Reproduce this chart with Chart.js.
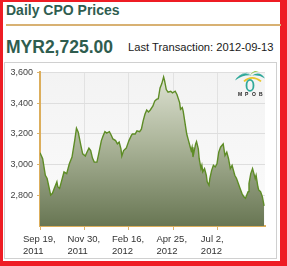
<!DOCTYPE html>
<html><head><meta charset="utf-8">
<script src="https://cdn.jsdelivr.net/npm/chart.js@4"></script>
<style>
html,body{margin:0;padding:0;}
#frame{position:absolute;left:0;top:0;width:287px;height:266px;background:#ee1c24;overflow:hidden;}
#inner{position:absolute;left:3px;top:2px;width:277px;height:259px;background:#fff;}
#title{position:absolute;left:3px;top:1px;font:bold 14px/14px "Liberation Sans",Arial,sans-serif;color:#2f5d4f;white-space:nowrap;}
#rule{position:absolute;left:3px;top:22px;width:275px;height:2px;background:#d8b173;}
#price{position:absolute;left:3px;top:36px;font:bold 17.5px/18px "Liberation Sans",Arial,sans-serif;color:#2f5d4f;white-space:nowrap;}
#last{position:absolute;left:125px;top:39.5px;font:11.2px/11.2px "Liberation Sans",Arial,sans-serif;color:#1a1a1a;white-space:nowrap;}
#panel{position:absolute;left:1px;top:60px;width:271px;height:195px;border:1px solid #d0d0d0;}
#wrap{position:absolute;left:0;top:0;width:270px;height:194px;}
</style></head>
<body>
<div id="frame"><div id="inner">
<div id="title">Daily CPO Prices</div>
<div id="rule"></div>
<div id="price">MYR2,725.00</div>
<div id="last">Last Transaction: 2012-09-13</div>
<div id="panel"><div id="wrap"><canvas id="c" width="270" height="194"></canvas></div></div>
</div></div>
<script>
// trading-day index since Sep 19, 2011
const tradingDay = [0,3,6,8,10,12,14,16,19,20,
22,24,26,27,30,33,36,39,41,43,
46,48,51,52,55,57,59,61,64,66,
69,71,73,75,78,80,82,85,87,89,
91,92,94,97,100,103,104,107,109,112,
114,116,118,120,122,124,127,129,131,133,
135,137,139,140,142,144,147,149,152,154,
157,158,160,161,163,165,167,169,170,171,
172,175,176,178,179,181,182,183,185,187,
188,190,191,193,195,197,199,201,203,206,
208,210,212,214,216,218,219,221,223,225,
227,229,231,234,235,237,239,240,242,243,
245,246,248,250,252];
const price = [3076,3037,2929,2908,2854,2800,2811,2843,2886,2854,
2843,2886,2929,2951,2940,3004,3048,3155,3235,3209,
3123,3069,3054,3069,3106,3090,3041,3015,3015,3069,
3155,3187,3213,3204,3213,3192,3166,3155,3134,3145,
3101,3054,3090,3106,3155,3192,3198,3198,3219,3213,
3230,3284,3327,3355,3342,3355,3381,3413,3424,3428,
3499,3527,3570,3548,3488,3471,3477,3467,3477,3456,
3403,3359,3370,3348,3273,3198,3155,3112,3090,3112,
3048,3134,3149,3101,3037,2972,2994,2951,2972,2929,
2886,2864,2908,2961,2994,2983,3004,3080,3112,3134,
3058,3080,3037,2972,2994,2951,2929,2908,2875,2843,
2811,2790,2779,2822,2875,2940,2972,2951,2908,2929,
2854,2832,2822,2790,2730];
const xTickDays = [0,50,100,150,200];
const xTickLabels = [["Sep 19,","2011"],["Nov 30,","2011"],["Feb 16,","2012"],["Apr 25,","2012"],["Jul 2,","2012"]];
const yTicks = [2800,3000,3200,3400,3600];

const points = tradingDay.map((d,i)=>({x:d,y:price[i]}));

const plotBg = {
  id:'plotBg',
  beforeDraw(chart){
    const {ctx, chartArea:a} = chart;
    ctx.save();
    const g = ctx.createLinearGradient(0,a.top,0,a.bottom);
    g.addColorStop(0,'#f3f3f3'); g.addColorStop(1,'#fbfbfb');
    ctx.fillStyle = g;
    ctx.fillRect(a.left,a.top,a.right-a.left,a.bottom-a.top);
    ctx.restore();
  }
};
const logo = {
  id:'logo',
  afterDraw(chart){
    const ctx = chart.ctx;
    const ox = chart.chartArea.right - 30, oy = chart.chartArea.top - 3;
    ctx.save();
    ctx.translate(ox, oy);
    ctx.fillStyle = '#2fa89a';
    // left leaf
    ctx.beginPath(); ctx.moveTo(0,11); ctx.quadraticCurveTo(6,1,17,6); ctx.quadraticCurveTo(8,5,0,11); ctx.fill();
    ctx.beginPath(); ctx.moveTo(3,7); ctx.quadraticCurveTo(9,2,15,4); ctx.quadraticCurveTo(9,3,3,7); ctx.fill();
    // right leaf
    ctx.beginPath(); ctx.moveTo(17,6); ctx.quadraticCurveTo(25,1,30,9); ctx.quadraticCurveTo(24,5,17,6); ctx.fill();
    ctx.fillStyle = '#8cc63f';
    ctx.beginPath(); ctx.moveTo(15,6); ctx.quadraticCurveTo(18,0,24,2); ctx.quadraticCurveTo(18,2,15,6); ctx.fill();
    ctx.strokeStyle = '#e9c62c'; ctx.lineWidth = 1.8;
    ctx.beginPath(); ctx.moveTo(9,12); ctx.quadraticCurveTo(17,5,26,12); ctx.stroke();
    ctx.strokeStyle = '#2fa89a'; ctx.lineWidth = 1.8;
    ctx.beginPath(); ctx.ellipse(15,16,3.5,5.5,0,0,Math.PI*2); ctx.stroke();
    ctx.fillStyle = '#222';
    ctx.font = 'bold 5px "Liberation Sans", Arial';
    ctx.textBaseline = 'alphabetic';
    const letters = ['M','P','O','B'];
    letters.forEach((l,i)=>ctx.fillText(l, 3 + i*7, 27));
    ctx.restore();
  }
};

new Chart(document.getElementById('c'), {
  type:'line',
  data:{datasets:[{
    data: points,
    borderColor:'#5e8c26',
    borderWidth:1.4,
    pointRadius:0,
    tension:0,
    fill:'start',
    backgroundColor:(ctx)=>{
      const ch = ctx.chart; const a = ch.chartArea;
      if(!a) return '#aab29a';
      const g = ch.ctx.createLinearGradient(0,a.top,0,a.bottom);
      g.addColorStop(0,'#e0e4d5');
      g.addColorStop(0.45,'#adb69b');
      g.addColorStop(1,'#687653');
      return g;
    }
  }]},
  options:{
    responsive:false,
    animation:false,
    events:[],
    layout:{padding:{top:8,right:10,left:0,bottom:0}},
    plugins:{legend:{display:false},tooltip:{enabled:false}},
    scales:{
      x:{
        type:'linear', min:0, max:253,
        afterBuildTicks:(s)=>{ s.ticks = xTickDays.map(v=>({value:v})); },
        afterFit:(s)=>{ s.height = 31; },
        grid:{color:'#e2e2e2', lineWidth:1, tickLength:4, tickColor:'#d9b26f', drawTicks:true},
        border:{color:'#dcae5c', width:2},
        ticks:{
          autoSkip:false, maxRotation:0, minRotation:0, padding:4,
          align:'start', labelOffset:-17,
          color:'#333', font:{family:'"Liberation Sans", Arial', size:9.5, lineHeight:1.2},
          callback:(v,i)=>xTickLabels[i]
        }
      },
      y:{
        min:2598, max:3600,
        afterBuildTicks:(s)=>{ s.ticks = yTicks.map(v=>({value:v})); },
        afterFit:(s)=>{ s.width = 35; },
        grid:{color:'#dedede', lineWidth:1, tickLength:3, tickColor:'#d9b26f'},
        border:{color:'#dcae5c', width:2},
        ticks:{
          padding:4, color:'#444',
          font:{family:'"Liberation Sans", Arial', size:9},
          callback:(v)=>v.toLocaleString('en-US')
        }
      }
    }
  },
  plugins:[plotBg, logo]
});
</script>
</body></html>
